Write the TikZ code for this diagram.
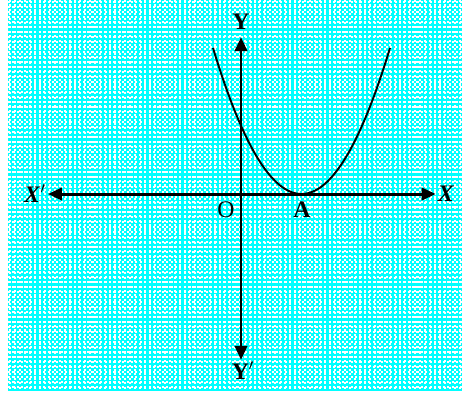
\documentclass[tikz,border=0pt]{standalone}
\usepackage{fontspec}
\setmainfont{Liberation Serif}
\usepackage{tikz}
\usetikzlibrary{arrows.meta}

\definecolor{bgcyan}{RGB}{0,255,255}
\tikzset{
  axis/.style={line width=1.7pt, {Triangle[length=8pt,width=7pt]}-{Triangle[length=8pt,width=7pt]}},
  lbl/.style={inner sep=1pt, font=\fontsize{13.5}{15}\selectfont},
  curve/.style={line width=1.1pt}
}

\begin{document}
\begin{tikzpicture}[x=0.02cm, y=-0.02cm]
  \useasboundingbox (0,0) rectangle (462,393);
  \fill[bgcyan] (8,0) rectangle (462,391);
  \begin{scope}[white, line width=0.7pt, dash pattern=on 1.2pt off 1.3pt]
    \foreach \gx in {10,15,...,460} \draw (\gx,0) -- (\gx,391);
    \foreach \gy in {2,7,...,390} \draw (8,\gy) -- (462,\gy);
  \end{scope}
  % labels
  \node[lbl] (X)  at (446,194) {\textbf{\textit{X}}};
  \node[lbl] (Xp) at (35,194)  {\textbf{\textit{X}}$'$};
  \node[lbl] (Y)  at (241,22)  {\textbf{Y}};
  \node[lbl] (Yp) at (243,371) {\textbf{Y}$'$};
  \node[lbl] (O)  at (226,210) {O};
  \node[lbl] (A)  at (302,210) {\textbf{A}};
  % axes
  \draw[axis] (Xp) -- (X);
  \draw[axis, shorten <=3pt] (Y.south) -- (Y.south |- Yp.north);
  % parabola touching the x-axis at A
  \draw[curve] plot[domain=213:390, samples=60, smooth] (\x, {194 - 0.01864*(\x-301.5)*(\x-301.5)});
\end{tikzpicture}
\end{document}
